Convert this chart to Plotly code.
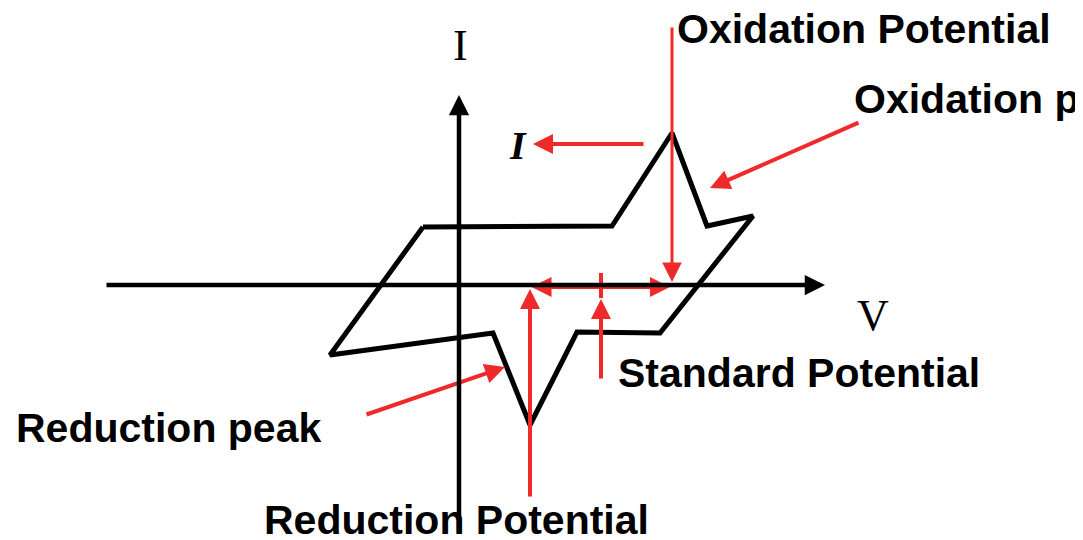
import plotly.graph_objects as go

# cyclic voltammogram outline (potential, current), origin at the axes crossing
cv_potential = [-36, 153, 213, 248, 294, 201, 118, 71, 34, -129, -36]
cv_current = [58, 59, 152, 59, 69, -48, -47, -140, -48, -70, 58]

# key values
ox_peak = (213, 152)
red_peak = (71, -140)
std_potential = 142

# axis extents
v_axis = (-354, 366)
i_axis = (-255, 190)

RED = "#ee2a2a"
BOLD = dict(family="Liberation Sans, Arial", size=41, color="black", weight="bold")

fig = go.Figure()
fig.add_trace(go.Scatter(
    x=cv_potential, y=cv_current, mode="lines",
    line=dict(color="black", width=5), hoverinfo="skip",
))


def arrow(x, y, ax, ay, color=RED, width=4, size=1.0, side="end"):
    fig.add_annotation(
        x=x, y=y, ax=ax, ay=ay, xref="x", yref="y", axref="x", ayref="y",
        text="", showarrow=True, arrowhead=2, arrowsize=size, arrowwidth=width,
        arrowcolor=color, arrowside=side, startarrowhead=2, startarrowsize=size,
        standoff=0, startstandoff=0,
    )


def label(x, y, text, font=BOLD, anchor="left"):
    fig.add_annotation(x=x, y=y, xref="x", yref="y", text=text, showarrow=False,
                       font=font, xanchor=anchor, yanchor="middle")


# red guides
arrow(ox_peak[0], 3, ox_peak[0], 259, width=3, size=1.3)          # oxidation potential
arrow(74, ox_peak[1] - 11, 186, ox_peak[1] - 11)                   # peak current
arrow(251, 97, 401, 163)                                           # oxidation peak
arrow(ox_peak[0] - 2, -2, red_peak[0], -2, side="end+start")       # peak separation
arrow(std_potential, -14, std_potential, -95)                      # standard potential
arrow(red_peak[0], -4, red_peak[0], -213)                          # reduction potential
arrow(46, -82, -94, -130)                                          # reduction peak
fig.add_shape(type="line", x0=std_potential, x1=std_potential, y0=12, y1=-13,
              line=dict(color=RED, width=4))

# text
serif = dict(family="Liberation Serif, Times New Roman", size=44, color="black")
label(1, 240, "I", font=serif, anchor="center")
label(414, -30, "V", font=serif, anchor="center")
label(59, 140, "I", font=dict(family="Liberation Serif", size=40, color="black",
                              weight="bold", style="italic"), anchor="center")
label(216, 256, "Oxidation Potential")
label(393, 186, "Oxidation peak")
label(157, -88, "Standard Potential")
label(-445, -143, "Reduction peak")
label(-197, -235, "Reduction Potential")

# axes (drawn last: the current axis runs over the bottom label)
arrow(v_axis[1], 0, v_axis[0], 0, color="black", width=4.5, size=0.9)
arrow(0, i_axis[1], 0, i_axis[0] + 6, color="black", width=4.5, size=0.9)

# the page body adds an 8px margin, so the figure is 8px smaller than the window
fig.update_layout(
    width=1075, height=532, margin=dict(l=0, r=0, t=0, b=0),
    plot_bgcolor="white", paper_bgcolor="white", showlegend=False,
    xaxis=dict(range=[-451, 624], visible=False, fixedrange=True),
    yaxis=dict(range=[-255, 277], visible=False, fixedrange=True),
)
fig.write_html("out.html")
